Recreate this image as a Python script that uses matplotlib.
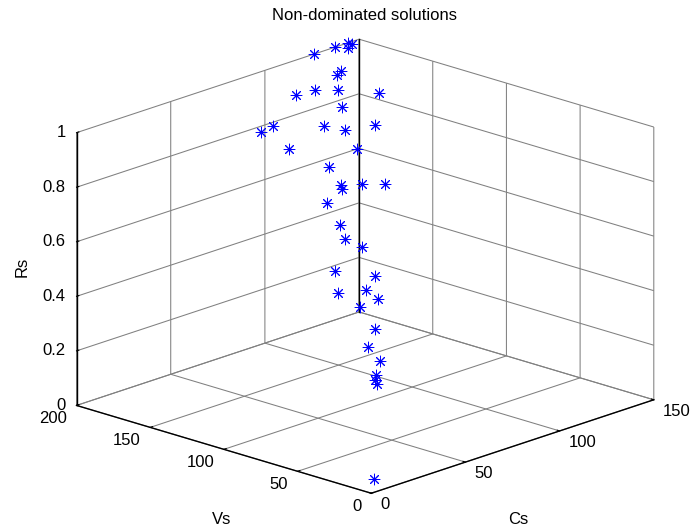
import matplotlib
matplotlib.use('Agg')
import matplotlib.pyplot as plt

plt.rcParams['font.family'] = ['Liberation Sans', 'DejaVu Sans']
plt.rcParams['grid.color'] = '#808080'
plt.rcParams['grid.linewidth'] = 0.75

title = 'Non-dominated solutions'
Vs = [200, 200, 200, 200, 200, 193, 193, 185, 193, 198, 170, 177, 194, 193, 175, 166, 157, 177, 153, 155, 143,
      141, 137, 129, 141, 127, 119, 110, 109, 92, 98, 89, 81, 84, 70, 65, 54, 49, 47, 45, 6]
Cs = [144, 146, 144, 137, 126, 135, 133, 127, 121, 115, 137, 123, 93, 99, 112, 116, 125, 95, 112, 99, 96,
      95, 102, 108, 87, 83, 79, 81, 66, 74, 59, 67, 67, 60, 57, 49, 47, 41, 39, 38, 6]
Rs = [1.0, 0.99, 0.98, 1.0, 1.0, 0.93, 0.92, 0.89, 0.89, 0.88, 0.88, 0.85, 0.80, 0.81, 0.81, 0.80, 0.81, 0.76,
      0.76, 0.72, 0.68, 0.67, 0.68, 0.68, 0.64, 0.59, 0.56, 0.54, 0.49, 0.48, 0.44, 0.45, 0.43, 0.41, 0.36,
      0.32, 0.29, 0.26, 0.25, 0.24, 0.03]
cs_lim = (0, 150)
vs_lim = (0, 200)
rs_lim = (0, 1)
cs_ticks = [0, 50, 100, 150]
vs_ticks = [0, 50, 100, 150, 200]
rs_ticks = [0, 0.2, 0.4, 0.6, 0.8, 1]
rs_labels = ['0', '0.2', '0.4', '0.6', '0.8', '1']

fig = plt.figure(figsize=(6.94, 5.29), dpi=100)
ax = fig.add_axes([0.0164, 0.0089, 1.0, 0.95], projection='3d', proj_type='ortho')
ax.view_init(elev=18.3, azim=-136.5)
ax.set_box_aspect((1, 0.99, 0.70), zoom=1.246)

ax.scatter(Cs, Vs, Rs, marker=(8, 2, 0), s=60, c='#0000ff', linewidths=0.7, depthshade=False)
# dark back vertical edge of the box
ax.plot([cs_lim[1], cs_lim[1]], [vs_lim[1], vs_lim[1]], list(rs_lim), color='black', lw=1.0)

ax.set_xlim(*cs_lim)
ax.set_ylim(*vs_lim)
ax.set_zlim(*rs_lim)
ax.set_xticks(cs_ticks)
ax.set_yticks(vs_ticks)
ax.set_zticks(rs_ticks)
ax.set_zticklabels(rs_labels)
ax.tick_params(labelsize=12)
ax.xaxis.set_tick_params(pad=-2.1)
ax.yaxis.set_tick_params(pad=-1.4)
ax.zaxis.set_tick_params(pad=-4.4)

for axis in (ax.xaxis, ax.yaxis, ax.zaxis):
    axis.set_pane_color((1, 1, 1, 0))
    axis.pane.set_edgecolor('none')
    axis.line.set_color('black')
    axis.line.set_linewidth(1.0)
    axis._axinfo['tick']['inward_factor'] = 0.0
    axis._axinfo['tick']['outward_factor'] = 0.1

plt.setp(ax.get_xticklabels(), ha='left', va='center')
plt.setp(ax.get_yticklabels(), ha='right', va='center')
plt.setp(ax.get_zticklabels(), ha='right', va='center')

fig.text(364 / 694, 1 - 16 / 529, title, ha='center', va='center', fontsize=12)
fig.text(222 / 694, 1 - 520 / 529, 'Vs', ha='center', va='center', fontsize=12)
fig.text(518 / 694, 1 - 520 / 529, 'Cs', ha='center', va='center', fontsize=12)
fig.text(22 / 694, 1 - 267 / 529, 'Rs', ha='center', va='center', fontsize=12, rotation=90)
fig.savefig('out.png', dpi=100)
